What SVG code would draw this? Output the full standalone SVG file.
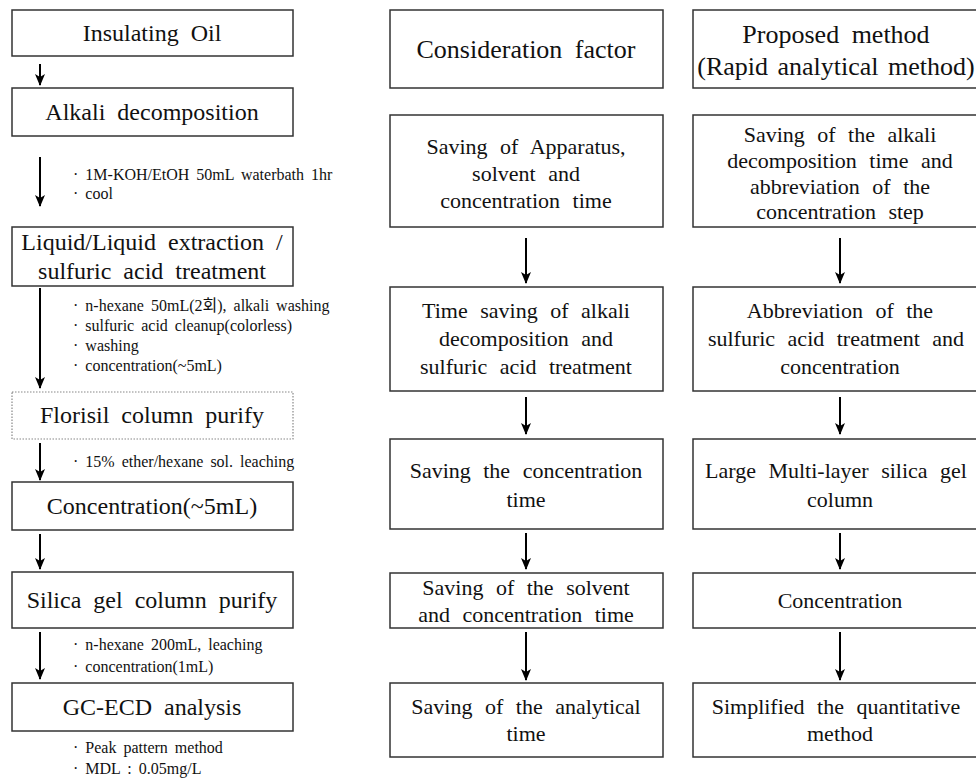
<svg xmlns="http://www.w3.org/2000/svg" width="976" height="779" viewBox="0 0 976 779">
<style>
.box{fill:#fff;stroke:#333;stroke-width:1.5}
.dot{fill:#fff;stroke:#888;stroke-width:1.2;stroke-dasharray:1.5 1.5}
.t{font-family:"Liberation Serif","DejaVu Serif","Noto Sans CJK KR",serif;fill:#111;text-anchor:middle;dominant-baseline:central}
.h{font-size:26px;word-spacing:6px}
.b{font-size:24px;word-spacing:6px}
.m{font-size:22px;word-spacing:7px}
.n{font-family:"Liberation Serif","DejaVu Serif","Noto Sans CJK KR",serif;font-size:16px;fill:#111;word-spacing:3px;dominant-baseline:central}
.ar{stroke:#000;stroke-width:2;fill:none;marker-end:url(#ah)}
</style>
<defs>
<marker id="ah" markerUnits="userSpaceOnUse" markerWidth="12" markerHeight="10" refX="11" refY="5" orient="auto" viewBox="0 0 12 10">
<path d="M0,0 L12,5 L0,10 L3,5 Z" fill="#000"/>
</marker>
</defs>
<rect width="976" height="779" fill="#fff"/>

<g id="connectors">
<line class="ar" x1="40" y1="64" x2="40" y2="85"/>
<line class="ar" x1="40" y1="157" x2="40" y2="206"/>
<line class="ar" x1="40" y1="288" x2="40" y2="388"/>
<line class="ar" x1="40" y1="443" x2="40" y2="480"/>
<line class="ar" x1="40" y1="534" x2="40" y2="569"/>
<line class="ar" x1="40" y1="632" x2="40" y2="679"/>
<line class="ar" x1="526" y1="238" x2="526" y2="283"/>
<line class="ar" x1="526" y1="397" x2="526" y2="434"/>
<line class="ar" x1="526" y1="533" x2="526" y2="569"/>
<line class="ar" x1="526" y1="632" x2="526" y2="680"/>
<line class="ar" x1="840" y1="238" x2="840" y2="283"/>
<line class="ar" x1="840" y1="397" x2="840" y2="434"/>
<line class="ar" x1="840" y1="533" x2="840" y2="569"/>
<line class="ar" x1="840" y1="632" x2="840" y2="680"/>
</g>

<g id="insulating-oil"><rect class="box" x="12" y="10" width="281" height="46"/><text class="t b" x="152" y="33">Insulating Oil</text></g>
<g id="alkali-decomposition"><rect class="box" x="12" y="88" width="281" height="48"/><text class="t b" x="152" y="112">Alkali decomposition</text></g>
<g id="note-alkali"><text class="n" x="73" y="174">· 1M-KOH/EtOH 50mL waterbath 1hr</text><text class="n" x="73" y="193">· cool</text></g>
<g id="liquid-extraction"><rect class="box" x="12" y="227" width="281" height="59"/><text class="t b" x="152" y="242">Liquid/Liquid extraction /</text><text class="t b" x="152" y="271">sulfuric acid treatment</text></g>
<g id="note-extraction"><text class="n" x="73" y="305">· n-hexane 50mL(2회), alkali washing</text><text class="n" x="73" y="325">· sulfuric acid cleanup(colorless)</text><text class="n" x="73" y="345">· washing</text><text class="n" x="73" y="365">· concentration(~5mL)</text></g>
<g id="florisil"><rect class="dot" x="12" y="392" width="281" height="47"/><text class="t b" x="152" y="415">Florisil column purify</text></g>
<g id="note-florisil"><text class="n" x="73" y="461">· 15% ether/hexane sol. leaching</text></g>
<g id="concentration-5ml"><rect class="box" x="12" y="482" width="281" height="48"/><text class="t b" x="152" y="506">Concentration(~5mL)</text></g>
<g id="silica-gel"><rect class="box" x="12" y="572" width="281" height="56"/><text class="t b" x="152" y="600">Silica gel column purify</text></g>
<g id="note-silica"><text class="n" x="73" y="644">· n-hexane 200mL, leaching</text><text class="n" x="73" y="666">· concentration(1mL)</text></g>
<g id="gc-ecd"><rect class="box" x="12" y="683" width="281" height="48"/><text class="t b" x="152" y="707">GC-ECD analysis</text></g>
<g id="note-gc"><text class="n" x="73" y="747">· Peak pattern method</text><text class="n" x="73" y="768">· MDL : 0.05mg/L</text></g>

<g id="consideration-factor"><rect class="box" x="390" y="10" width="273" height="78"/><text class="t h" x="526" y="49">Consideration factor</text></g>
<g id="cf1"><rect class="box" x="390" y="115" width="273" height="112"/><text class="t m" x="526" y="146">Saving of Apparatus,</text><text class="t m" x="526" y="173">solvent and</text><text class="t m" x="526" y="200">concentration time</text></g>
<g id="cf2"><rect class="box" x="390" y="287" width="273" height="104"/><text class="t m" x="526" y="310">Time saving of alkali</text><text class="t m" x="526" y="338">decomposition and</text><text class="t m" x="526" y="366">sulfuric acid treatment</text></g>
<g id="cf3"><rect class="box" x="390" y="439" width="273" height="90"/><text class="t m" x="526" y="470">Saving the concentration</text><text class="t m" x="526" y="499">time</text></g>
<g id="cf4"><rect class="box" x="390" y="573" width="273" height="55"/><text class="t m" x="526" y="587">Saving of the solvent</text><text class="t m" x="526" y="614">and concentration time</text></g>
<g id="cf5"><rect class="box" x="390" y="683" width="273" height="74"/><text class="t m" x="526" y="706">Saving of the analytical</text><text class="t m" x="526" y="733">time</text></g>

<g id="proposed-method"><rect class="box" x="693" y="10" width="294" height="78"/><text class="t h" x="836" y="34">Proposed method</text><text class="t h" x="836" y="66" style="word-spacing:3px">(Rapid analytical method)</text></g>
<g id="pm1"><rect class="box" x="693" y="115" width="294" height="112"/><text class="t m" x="840" y="134">Saving of the alkali</text><text class="t m" x="840" y="160">decomposition time and</text><text class="t m" x="840" y="186">abbreviation of the</text><text class="t m" x="840" y="211">concentration step</text></g>
<g id="pm2"><rect class="box" x="693" y="287" width="294" height="104"/><text class="t m" x="840" y="310">Abbreviation of the</text><text class="t m" x="836" y="338">sulfuric acid treatment and</text><text class="t m" x="840" y="366">concentration</text></g>
<g id="pm3"><rect class="box" x="693" y="439" width="294" height="90"/><text class="t m" x="836" y="470">Large Multi-layer silica gel</text><text class="t m" x="840" y="499">column</text></g>
<g id="pm4"><rect class="box" x="693" y="573" width="294" height="55"/><text class="t m" x="840" y="600">Concentration</text></g>
<g id="pm5"><rect class="box" x="693" y="683" width="294" height="74"/><text class="t m" x="836" y="706">Simplified the quantitative</text><text class="t m" x="840" y="733">method</text></g>
</svg>
